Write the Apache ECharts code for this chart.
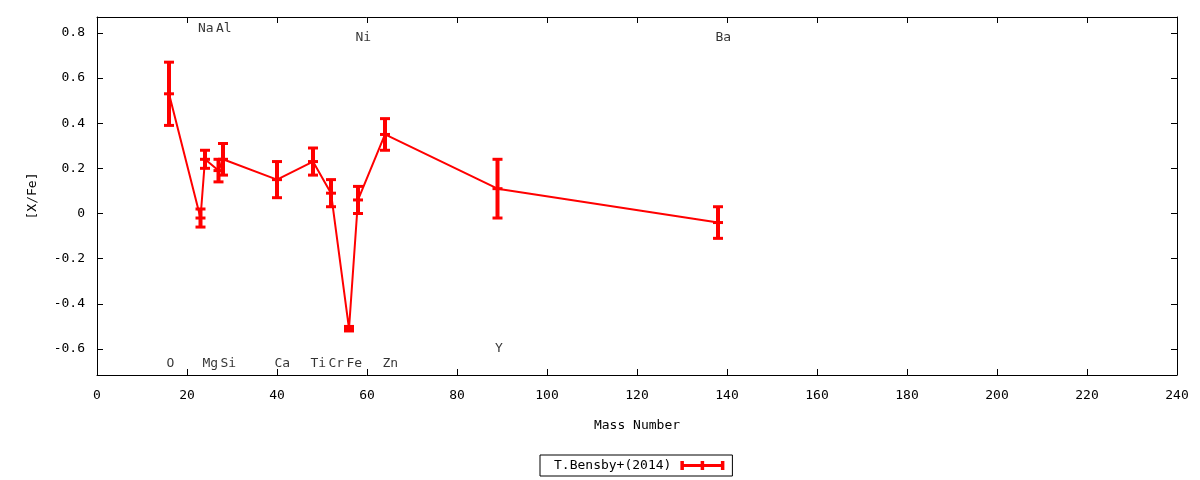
<!DOCTYPE html>
<html>
<head>
<meta charset="utf-8">
<script src="https://cdn.jsdelivr.net/npm/echarts@6/dist/echarts.min.js"></script>
<style>
  html, body { margin: 0; padding: 0; background: #fff; }
  #chart { width: 1200px; height: 480px; }
</style>
</head>
<body>
<div id="chart"></div>
<script>
// abundances vs mass number
var elements = ['O', 'Na', 'Mg', 'Al', 'Si', 'Ca', 'Ti', 'Cr', 'Fe', 'Ni', 'Zn', 'Y', 'Ba'];
var massNumbers = [16, 23, 24, 27, 28, 40, 48, 52, 56, 58, 64, 89, 138];
var xFe = [0.53, -0.02, 0.24, 0.19, 0.24, 0.15, 0.23, 0.09, -0.51, 0.06, 0.35, 0.11, -0.04];
var xFeErr = [0.14, 0.04, 0.04, 0.05, 0.07, 0.08, 0.06, 0.06, 0.01, 0.06, 0.07, 0.13, 0.07];
// where the element names sit (value coords)
var labelY = [-0.665, 0.82, -0.665, 0.82, -0.665, -0.665, -0.665, -0.665, -0.665, 0.78, -0.665, -0.6, 0.78];

var RED = '#ff0000';

var lineData = [];
var errData = [];
var labelData = [];
for (var i = 0; i < elements.length; i++) {
    lineData.push([massNumbers[i], xFe[i]]);
    errData.push([massNumbers[i], xFe[i], xFeErr[i]]);
    labelData.push({ value: [massNumbers[i], labelY[i]], name: elements[i] });
}

function renderErrorBar(params, api) {
    var x = api.value(0), y = api.value(1), e = api.value(2);
    var c = api.coord([x, y]);
    var hi = api.coord([x, y + e]);
    var lo = api.coord([x, y - e]);
    var hw = 5;
    var st = { stroke: RED, lineWidth: 4 };
    var cap = { stroke: RED, lineWidth: 3 };
    return {
        type: 'group',
        children: [
            { type: 'line', shape: { x1: c[0], y1: hi[1], x2: c[0], y2: lo[1] }, style: st },
            { type: 'line', shape: { x1: c[0] - hw, y1: hi[1], x2: c[0] + hw, y2: hi[1] }, style: cap },
            { type: 'line', shape: { x1: c[0] - hw, y1: lo[1], x2: c[0] + hw, y2: lo[1] }, style: cap },
            { type: 'line', shape: { x1: c[0] - hw, y1: c[1], x2: c[0] + hw, y2: c[1] }, style: cap }
        ]
    };
}

var FONT = 'DejaVu Sans Mono';
var YMIN = -0.715, YMAX = 0.87;

var axisCommon = {
    axisLine: { show: true, onZero: false, lineStyle: { color: '#000', width: 1 } },
    axisTick: { show: true, inside: true, length: 6, lineStyle: { color: '#000' } },
    splitLine: { show: false }
};

var chart = echarts.init(document.getElementById('chart'));
chart.setOption({
    animation: false,
    backgroundColor: '#fff',
    textStyle: { fontFamily: FONT, color: '#000', fontSize: 13 },
    grid: { left: 97, right: 23, top: 17, bottom: 105, containLabel: false },
    legend: {
        data: ['T.Bensby+(2014)'],
        left: 540,
        top: 455,
        align: 'right',
        orient: 'horizontal',
        borderColor: '#000',
        borderWidth: 1,
        borderRadius: 0,
        padding: [4, 8, 4, 14],
        itemWidth: 44,
        itemHeight: 9,
        icon: 'path://M0,3h44v3h-44z M0,0h3.5v9h-3.5z M20.25,0h3.5v9h-3.5z M40.5,0h3.5v9h-3.5z',
        textStyle: { fontFamily: FONT, fontSize: 13, color: '#000', padding: [0, 4, 0, 0] }
    },
    xAxis: [
        Object.assign({
            type: 'value', position: 'bottom', min: 0, max: 240, interval: 20,
            name: 'Mass Number', nameLocation: 'middle', nameGap: 44,
            nameTextStyle: { fontFamily: FONT, fontSize: 13, color: '#000' },
            axisLabel: { margin: 14, color: '#000', fontFamily: FONT, fontSize: 13 }
        }, axisCommon),
        Object.assign({
            type: 'value', position: 'top', min: 0, max: 240, interval: 20,
            axisLabel: { show: false }
        }, axisCommon)
    ],
    yAxis: [
        Object.assign({
            type: 'value', position: 'left', min: YMIN, max: YMAX, splitNumber: 8,
            name: '[X/Fe]', nameLocation: 'middle', nameGap: 58, nameRotate: 90,
            nameTextStyle: { fontFamily: FONT, fontSize: 13, color: '#000' },
            axisLabel: {
                margin: 12, color: '#000', fontFamily: FONT, fontSize: 13,
                showMinLabel: false, showMaxLabel: false
            }
        }, axisCommon),
        Object.assign({
            type: 'value', position: 'right', min: YMIN, max: YMAX, splitNumber: 8,
            axisLabel: { show: false }
        }, axisCommon)
    ],
    series: [
        {
            name: 'T.Bensby+(2014)',
            type: 'line',
            data: lineData,
            showSymbol: false,
            symbol: 'none',
            lineStyle: { color: RED, width: 2 },
            itemStyle: { color: RED },
            z: 2
        },
        {
            name: 'T.Bensby+(2014)',
            type: 'custom',
            data: errData,
            renderItem: renderErrorBar,
            encode: { x: 0, y: [1, 2] },
            itemStyle: { color: RED },
            z: 3
        },
        {
            type: 'scatter',
            data: labelData,
            symbolSize: 1,
            itemStyle: { color: 'rgba(0,0,0,0)' },
            label: {
                show: true,
                position: 'right',
                distance: 0,
                offset: [-3, 0],
                formatter: '{b}',
                color: '#000',
                fontFamily: FONT,
                fontSize: 13
            },
            silent: true,
            z: 4
        }
    ]
});
</script>
</body>
</html>
